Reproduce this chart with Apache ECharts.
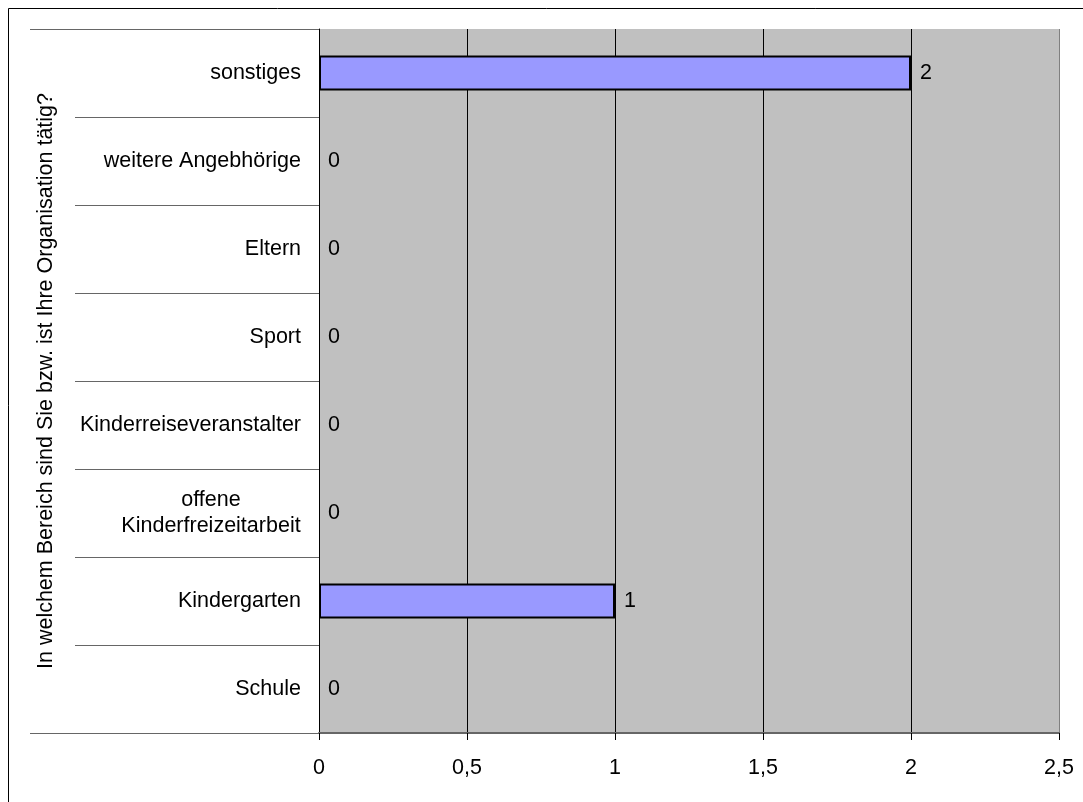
<!DOCTYPE html>
<html>
<head>
<meta charset="utf-8">
<script src="https://cdn.jsdelivr.net/npm/echarts@6/dist/echarts.min.js"></script>
<style>
html,body{margin:0;padding:0;background:#fff;}
#chart{width:1083px;height:802px;}
</style>
</head>
<body>
<div id="chart"></div>
<script>
const categories = ['Schule', 'Kindergarten', 'offene Kinderfreizeitarbeit', 'Kinderreiseveranstalter', 'Sport', 'Eltern', 'weitere Angebhörige', 'sonstiges'];
const values = [0, 1, 0, 0, 0, 0, 0, 2];
const xTicks = [0, 0.5, 1, 1.5, 2, 2.5];
const axisTitle = 'In welchem Bereich sind Sie bzw. ist Ihre Organisation tätig?';

const FONT = '"Liberation Sans", Arial, sans-serif';
const FS = 21.5;
const chart = echarts.init(document.getElementById('chart'), null, {renderer: 'canvas'});

const option = {
  animation: false,
  textStyle: {fontFamily: FONT},
  graphic: [{
    type: 'rect', z: -1,
    shape: {x: 8.5, y: 8.5, width: 1200, height: 900},
    style: {fill: 'none', stroke: '#000', lineWidth: 1}
  }],
  grid: {
    left: 319, right: 24, top: 29, bottom: 69,
    show: true, backgroundColor: '#c0c0c0', borderWidth: 0
  },
  xAxis: {
    type: 'value',
    min: xTicks[0], max: xTicks[xTicks.length - 1], interval: 0.5,
    axisLine: {show: true, lineStyle: {color: '#666', width: 2}},
    axisTick: {show: true, length: 7, lineStyle: {color: '#000'}},
    axisLabel: {
      color: '#000', fontSize: FS, fontFamily: FONT, margin: 24,
      formatter: v => String(v).replace('.', ',')
    },
    splitLine: {show: true, lineStyle: {color: ['#000', '#000', '#000', '#000', '#000', '#808080'], width: 1}}
  },
  yAxis: [{
    type: 'category',
    data: categories,
    position: 'left',
    name: axisTitle,
    nameLocation: 'middle',
    nameRotate: 90,
    nameGap: 262,
    nameTextStyle: {color: '#000', fontSize: FS, fontFamily: FONT},
    axisLine: {show: true, lineStyle: {color: '#000', width: 1}},
    axisTick: {show: true, length: 244, lineStyle: {color: '#666', width: 1}},
    axisLabel: {
      color: '#000', fontSize: FS, fontFamily: FONT, margin: 18, lineHeight: 26,
      formatter: v => v === 'offene Kinderfreizeitarbeit' ? '{c|offene}\n{c|Kinderfreizeitarbeit}' : v,
      rich: {c: {width: 180, align: 'center', fontSize: FS, fontFamily: FONT, color: '#000', lineHeight: 26}}
    },
    splitLine: {show: false}
  }, {
    type: 'category',
    data: [''],
    position: 'left',
    axisLine: {show: false},
    axisTick: {show: true, length: 289, lineStyle: {color: '#666', width: 1}},
    axisLabel: {show: false},
    splitLine: {show: false}
  }],
  series: [{
    type: 'bar',
    data: values.map(v => v === 0 ? {value: v, itemStyle: {borderWidth: 0}} : v),
    yAxisIndex: 0,
    barWidth: 35,
    itemStyle: {color: '#9999ff', borderColor: '#000', borderWidth: 2},
    label: {
      show: true, position: 'right', distance: 9,
      color: '#000', fontSize: FS, fontFamily: FONT
    }
  }]
};
chart.setOption(option);
</script>
</body>
</html>
